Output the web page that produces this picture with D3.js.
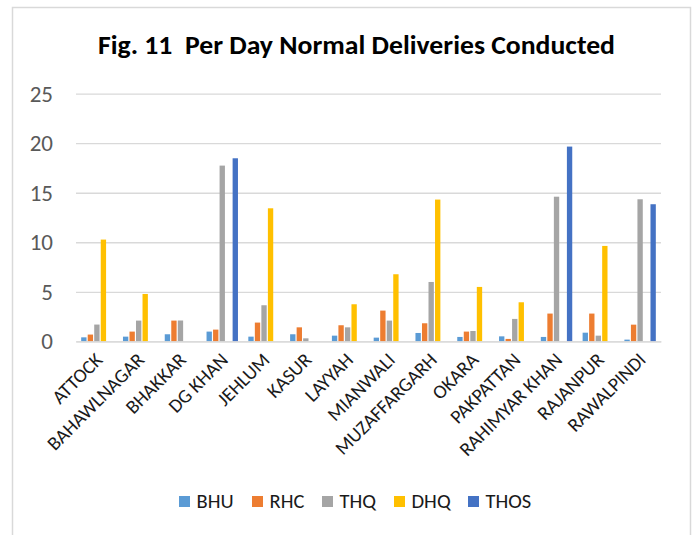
<!DOCTYPE html>
<html>
<head>
<meta charset="utf-8">
<title>Per Day Normal Deliveries Conducted</title>
<script src="https://d3js.org/d3.v7.min.js"></script>
<style>
  body { margin: 0; background: #fff; font-family: Carlito, Lato, sans-serif; }
  svg { display: block; }
</style>
</head>
<body>
<div id="chart"></div>
<script>
const districts = ["ATTOCK", "BAHAWLNAGAR", "BHAKKAR", "DG KHAN", "JEHLUM", "KASUR", "LAYYAH",
  "MIANWALI", "MUZAFFARGARH", "OKARA", "PAKPATTAN", "RAHIMYAR KHAN", "RAJANPUR", "RAWALPINDI"];
const seriesNames = ["BHU", "RHC", "THQ", "DHQ", "THOS"];
const bhu  = [0.40, 0.47, 0.71, 0.98, 0.47, 0.71, 0.57, 0.37, 0.84, 0.44, 0.50, 0.44, 0.87, 0.17];
const rhc  = [0.68, 0.98, 2.09, 1.18, 1.89, 1.41, 1.62, 3.10, 1.82, 0.98, 0.24, 2.80, 2.80, 1.68];
const thq  = [1.69, 2.09, 2.10, 17.74, 3.64, 0.30, 1.41, 2.09, 5.99, 1.04, 2.26, 14.60, 0.57, 14.34];
const dhq  = [10.27, 4.78, 0, 0, 13.43, 0, 3.74, 6.77, 14.31, 5.49, 3.94, 0, 9.63, 0];
const thos = [0, 0, 0, 18.48, 0, 0, 0, 0, 0, 0, 0, 19.66, 0, 13.84];
const yTicks = [0, 5, 10, 15, 20, 25];

const colors = ["#5B9BD5", "#ED7D31", "#A5A5A5", "#FFC000", "#4472C4"];
const values = [bhu, rhc, thq, dhq, thos];

const width = 696, height = 535;
const plot = { left: 76, right: 661, top: 93.7, bottom: 341.3 };

const svg = d3.select("#chart").append("svg")
  .attr("width", width)
  .attr("height", height);

// outer frame
svg.append("rect")
  .attr("x", 12.5).attr("y", 7.5)
  .attr("width", 678).attr("height", 540)
  .attr("fill", "none")
  .attr("stroke", "#d9d9d9")
  .attr("stroke-width", 1.5);

svg.append("text")
  .attr("x", 98).attr("y", 54)
  .attr("textLength", 517)
  .attr("lengthAdjust", "spacingAndGlyphs")
  .style("white-space", "pre")
  .style("font-size", "26px")
  .style("font-weight", "bold")
  .attr("fill", "#000")
  .text("Fig. 11  Per Day Normal Deliveries Conducted");

const x0 = d3.scaleBand()
  .domain(districts)
  .range([plot.left, plot.right])
  .paddingInner(0.22)
  .paddingOuter(0.11);

const x1 = d3.scaleBand()
  .domain(seriesNames)
  .range([0, x0.bandwidth()])
  .paddingInner(0.18)
  .paddingOuter(0.09);

const y = d3.scaleLinear()
  .domain([0, 25])
  .range([plot.bottom, plot.top]);

// gridlines + y labels
const yAxis = svg.append("g")
  .attr("transform", `translate(${plot.left},0)`)
  .call(d3.axisLeft(y).tickValues(yTicks).tickSize(-(plot.right - plot.left)).tickPadding(23));
yAxis.select(".domain").remove();
yAxis.selectAll(".tick line")
  .attr("stroke", "#d9d9d9")
  .attr("stroke-width", 1.3);
yAxis.selectAll(".tick text")
  .attr("fill", "#595959")
  .style("font-family", "Carlito, Lato, sans-serif")
  .style("font-size", "23px");

// bars
const rows = districts.map((d, i) => ({ district: d, vals: seriesNames.map((s, k) => ({ s, k, v: values[k][i] })) }));

svg.append("g").selectAll("g")
  .data(rows)
  .join("g")
  .attr("transform", d => `translate(${x0(d.district)},0)`)
  .selectAll("rect")
  .data(d => d.vals.filter(e => e.v > 0))
  .join("rect")
  .attr("x", e => x1(e.s))
  .attr("width", x1.bandwidth())
  .attr("y", e => y(e.v))
  .attr("height", e => y(0) - y(e.v))
  .attr("fill", e => colors[e.k]);

// x axis line and labels
const xAxis = svg.append("g")
  .attr("transform", `translate(0,${plot.bottom})`)
  .call(d3.axisBottom(x0).tickSize(0).tickSizeOuter(0));
xAxis.select(".domain")
  .attr("stroke", "#d9d9d9")
  .attr("stroke-width", 1.3);
xAxis.selectAll(".tick text")
  .attr("text-anchor", "end")
  .attr("fill", "#1a1a1a")
  .style("font-family", "Carlito, Lato, sans-serif")
  .style("font-size", "19.5px")
  .attr("y", 0).attr("dy", "0.35em")
  .attr("transform", "translate(2,15) rotate(-45)");

// legend
const legendX = [179, 252, 322, 394, 468];
const legend = svg.append("g").selectAll("g")
  .data(seriesNames)
  .join("g")
  .attr("transform", (d, i) => `translate(${legendX[i]},496)`);
legend.append("rect")
  .attr("width", 11).attr("height", 11)
  .attr("fill", (d, i) => colors[i]);
legend.append("text")
  .attr("x", 17.5).attr("y", 11.8)
  .attr("fill", "#1a1a1a")
  .style("font-size", "20.5px")
  .text(d => d);
</script>
</body>
</html>
